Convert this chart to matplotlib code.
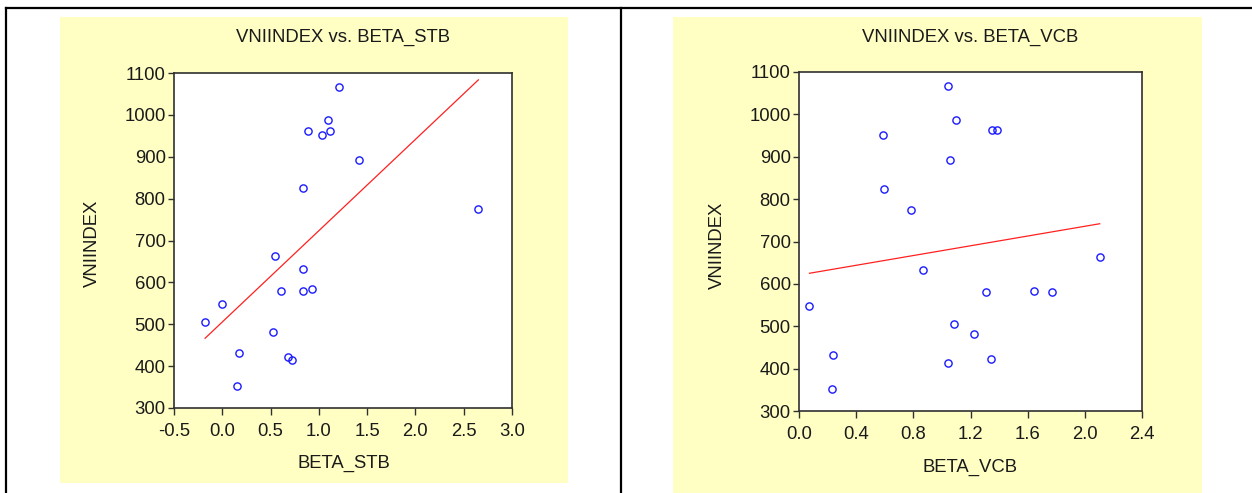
import numpy as np
import matplotlib
matplotlib.use("Agg")
import matplotlib.pyplot as plt
from matplotlib.patches import Rectangle
from matplotlib.lines import Line2D

# Data
vniindex = [1067, 987, 962, 962, 951, 892, 825, 775, 664, 632,
            580, 580, 584, 548, 506, 481, 432, 422, 414, 352]
beta_stb = [1.206, 1.099, 0.888, 1.116, 1.036, 1.417, 0.839, 2.652, 0.548, 0.839,
            0.611, 0.839, 0.933, 0.002, -0.178, 0.521, 0.168, 0.683, 0.718, 0.154]
beta_vcb = [1.046, 1.100, 1.351, 1.382, 0.585, 1.058, 0.597, 0.785, 2.104, 0.870,
            1.309, 1.770, 1.645, 0.073, 1.088, 1.224, 0.240, 1.340, 1.046, 0.230]

stb_xticks = [-0.5, 0.0, 0.5, 1.0, 1.5, 2.0, 2.5, 3.0]
vcb_xticks = [0.0, 0.4, 0.8, 1.2, 1.6, 2.0, 2.4]
yticks = [300, 400, 500, 600, 700, 800, 900, 1000, 1100]

W, H = 1252, 493
plt.rcParams['font.family'] = ['Liberation Sans', 'DejaVu Sans']
txt_col = '#1a1a1a'
yellow = '#FFFFC4'

fig = plt.figure(figsize=(W / 100, H / 100), dpi=100)


def fx(x):
    return x / W


def fy(y):
    return 1 - y / H


# table borders
for xs, ys, in [((6, W), (8, 8)), ((6, 6), (8, H)), ((621, 621), (8, H))]:
    fig.add_artist(Line2D([fx(xs[0]), fx(xs[1])], [fy(ys[0]), fy(ys[1])],
                          color='black', lw=1.6, transform=fig.transFigure))

# yellow panels
fig.add_artist(Rectangle((fx(60), fy(483)), fx(568) - fx(60), fy(17) - fy(483),
                         facecolor=yellow, edgecolor='none', transform=fig.transFigure, zorder=0))
fig.add_artist(Rectangle((fx(673), fy(493)), fx(1202) - fx(673), fy(17) - fy(493),
                         facecolor=yellow, edgecolor='none', transform=fig.transFigure, zorder=0))


def scatter_panel(box, x, xlim, xticks, xname, title, title_xy, ylab_xy, xlab_xy):
    left, top, right, bottom = box
    ax = fig.add_axes([fx(left), fy(bottom), fx(right) - fx(left), fy(top) - fy(bottom)])
    ax.set_facecolor('white')
    ax.plot(x, vniindex, 'o', mfc='none', mec='#1a1aff', mew=1.0, ms=5.2, zorder=3)
    b, a = np.polyfit(x, vniindex, 1)
    xs = np.array([min(x), max(x)])
    ax.plot(xs, a + b * xs, color='#ff2020', lw=0.9, zorder=2)
    ax.set_xlim(*xlim)
    ax.set_ylim(300, 1100)
    ax.set_xticks(xticks)
    ax.set_xticklabels(['%.1f' % t for t in xticks])
    ax.set_yticks(yticks)
    for s in ax.spines.values():
        s.set_color('#303030')
        s.set_linewidth(1.2)
    ax.tick_params(axis='y', direction='out', length=4, width=1, pad=2,
                   labelsize=13.3, colors='#303030', labelcolor=txt_col)
    ax.tick_params(axis='x', direction='out', length=5, width=1, pad=6,
                   labelsize=13.3, colors='#303030', labelcolor=txt_col)
    fig.text(fx(title_xy[0]), fy(title_xy[1]), title, ha='center', va='center',
             fontsize=13.3, color=txt_col)
    fig.text(fx(ylab_xy[0]), fy(ylab_xy[1]), 'VNIINDEX', ha='center', va='center',
             rotation=90, fontsize=13.3, color=txt_col)
    fig.text(fx(xlab_xy[0]), fy(xlab_xy[1]), xname, ha='center', va='center',
             fontsize=13.3, color=txt_col)
    return ax


scatter_panel((174, 73, 512, 408), beta_stb, (-0.5, 3.0), stb_xticks, 'BETA_STB',
              'VNIINDEX vs. BETA_STB', (343, 37), (92, 243), (344, 463))
scatter_panel((799, 72, 1142, 411), beta_vcb, (0.0, 2.4), vcb_xticks, 'BETA_VCB',
              'VNIINDEX vs. BETA_VCB', (970, 37), (717, 245), (970, 467))

fig.savefig('out.png', dpi=100, facecolor='white')
